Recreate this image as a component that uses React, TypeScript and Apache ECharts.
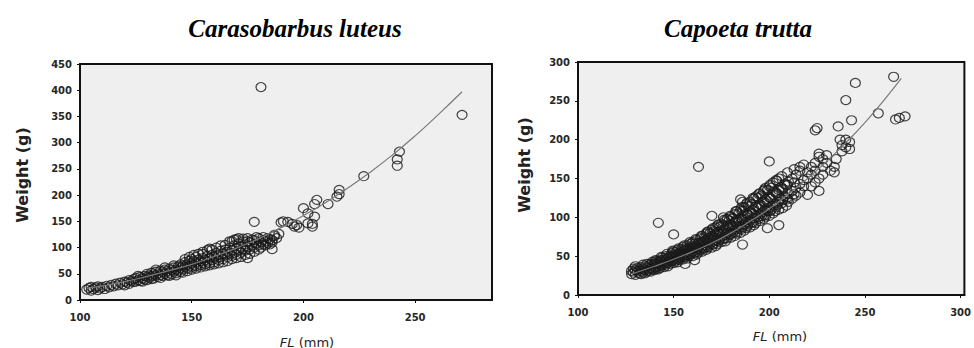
import React, { useEffect, useRef } from "react";
import * as echarts from "echarts";

const leftTitle = "Carasobarbus luteus";
const rightTitle = "Capoeta trutta";
const yName = "Weight (g)";

// Carasobarbus luteus: [FL (mm), Weight (g)]
const luteusPoints: number[][] = [
  [103,20],[104,23],[105,18],[105,25],[106,21],[107,24],[108,19],[108,26],[109,22],[110,25],
  [111,21],[112,27],[113,24],[114,29],[115,26],[116,31],[117,28],[118,33],[119,30],[120,35],
  [121,33],[122,38],[123,36],[124,40],[124,34],[125,42],[126,38],[127,44],[127,36],[128,41],
  [129,46],[129,39],[130,44],[130,50],[131,42],[131,47],[132,45],[132,52],[133,41],[133,49],
  [134,47],[134,54],[135,44],[135,51],[136,48],[136,56],[137,46],[137,53],[138,50],[138,58],
  [139,47],[139,55],[140,52],[140,60],[141,49],[141,57],[142,54],[142,62],[143,51],[143,58],
  [144,56],[144,64],[145,53],[145,61],
  [146,66],[146,58],[147,63],[147,72],[148,60],[148,68],[149,65],[149,75],[150,62],[150,70],
  [150,78],[151,66],[151,74],[152,64],[152,72],[152,82],[153,69],[153,77],[154,66],[154,74],
  [155,71],[155,80],[155,88],[156,68],[156,76],[157,73],[157,84],[158,70],[158,79],[158,98],
  [159,76],[159,86],[160,72],[160,82],[161,79],[161,90],[162,76],[162,86],[163,82],[163,94],
  [164,78],[164,88],[165,85],[165,96],[166,82],[166,92],[167,88],[167,100],[168,84],[168,95],
  [168,112],[169,90],[169,104],[170,86],[170,98],[170,116],[171,94],[171,108],[172,90],[172,102],
  [173,97],[173,112],[174,94],[174,106],[175,80],[175,100],[175,118],[176,96],[176,110],[177,104],
  [178,100],[178,114],[179,108],[180,104],[180,118],[181,110],[182,106],[182,120],[183,112],[184,108],
  [185,116],[186,114],[186,97],[187,122],
  [120,28],[122,31],[125,35],[126,46],[128,35],[130,38],[132,40],[134,58],[136,42],[138,62],
  [140,46],[142,66],[143,47],[145,68],[146,52],[147,78],[148,55],[149,82],[150,58],[151,86],
  [152,60],[153,88],[154,62],[155,92],[156,64],[157,95],[158,66],[159,96],[160,68],[161,100],
  [162,70],[163,104],[164,72],[165,105],[166,74],[167,112],[168,78],[169,115],[170,80],[171,118],
  [172,82],[173,117],[174,86],[175,112],[176,88],[177,115],[178,92],[179,120],[180,96],[181,100],
  [182,114],[183,104],[184,118],[185,106],[186,110],[187,124],[188,118],[189,126],
  [178,149],[181,406],[190,148],[191,150],[193,149],[195,145],[196,140],[197,143],[198,138],
  [200,175],[202,165],[202,146],[204,145],[204,140],[205,159],[205,183],[206,191],[211,183],
  [215,197],[216,210],[216,202],[227,236],[242,256],[242,268],[243,283],[271,353],
];

// fitted curve
const luteusFit: number[][] = [
  [103,22],[110,27],[120,35],[130,45],[140,56],[150,68],[160,83],[170,99],[180,117],
  [190,138],[200,161],[210,186],[220,214],[230,244],[240,277],[250,313],[260,352],[271,397],
];

// Capoeta trutta: weights grouped by FL
const truttaGroups: [number, number[]][] = [
  [128,[27,31]],[129,[29,34]],[130,[26,32,37]],[131,[30,35]],[132,[28,33]],[133,[31,36,27]],
  [134,[29,34,39]],[135,[32,37,28]],[136,[30,35,40]],[137,[33,38,31]],[138,[35,40,30]],
  [139,[33,38,43]],[140,[36,41,32]],[141,[34,39,44]],[142,[37,42,33,93]],[143,[40,45,35]],
  [144,[38,43,48]],[145,[41,46,36]],[146,[39,44,50]],[147,[42,47,37]],[148,[45,50,40]],
  [149,[43,48,54]],[150,[46,51,41,56,78]],[151,[44,49,55]],[152,[47,52,42,58]],[153,[50,55,45]],
  [154,[48,53,59]],[155,[51,56,46,62]],[156,[49,54,60,40]],[157,[52,58,47,64]],[158,[55,61,50]],
  [159,[53,59,66]],[160,[56,62,50,68]],[161,[54,60,66,45]],[162,[58,64,52,71]],[163,[61,67,55,165]],
  [164,[59,65,73]],[165,[62,69,56,76]],[166,[60,67,74]],[167,[64,71,58,79]],[168,[67,74,61,82]],
  [169,[65,72,80]],[170,[68,76,61,84,102]],[171,[66,74,82]],[172,[70,78,63,87]],[173,[73,81,66,90]],
  [174,[71,79,88]],[175,[75,83,68,92]],[176,[72,81,90,100]],[177,[77,86,69,95]],[178,[80,89,73,98]],
  [179,[78,87,96]],[180,[82,91,74,101]],[181,[80,89,99]],[182,[84,94,76,104]],[183,[87,97,79,108]],
  [184,[85,95,105]],[185,[89,99,80,110,123]],[186,[87,97,108,65,120]],[187,[91,102,83,113]],
  [188,[94,105,86,117]],[189,[92,103,114]],[190,[96,107,87,120]],[191,[94,105,117]],
  [192,[99,111,90,124]],[193,[102,114,93,127]],[194,[100,112,125]],[195,[104,117,95,131]],
  [196,[102,115,128]],[197,[107,120,98,134]],[198,[110,123,101,138]],[199,[108,121,135,86]],
  [200,[112,126,102,140,172]],[201,[110,124,138]],[202,[115,129,105,145]],[203,[118,133,108]],
  [204,[116,131,147]],[205,[120,135,110,150,90]],[206,[124,139]],[207,[122,137,112]],[208,[127,143]],
  [209,[125,141,115]],[210,[130,146,120]],[212,[134,150,124]],[214,[138,155,128]],
  [216,[143,160,165,132]],[218,[148,168,140]],[220,[150,129,158]],[222,[140,155,165]],
  [224,[145,160,170,212]],[225,[215]],[226,[150,134,178,182]],[228,[165,175,155]],[230,[170,180]],
  [232,[160]],[234,[158,165]],[235,[175]],[236,[217]],[237,[200]],[238,[185,193]],[240,[190,200,251]],
  [242,[188,197]],[243,[225]],[245,[273]],[257,[234]],[265,[281]],[266,[226]],[268,[228]],[271,[230]],
  [140.5,[35,40,45]],[143.5,[38,44,49]],[146.5,[41,47,53]],[149.5,[44,50,57]],[152.5,[46,53,60]],
  [155.5,[49,57,64]],[158.5,[52,60,68]],[161.5,[55,63,72]],[164.5,[58,67,76]],[167.5,[62,71,81]],
  [170.5,[65,75,86]],[173.5,[69,80,91]],[176.5,[73,84,97]],[179.5,[77,89,102]],[182.5,[81,94,108]],
  [185.5,[85,99,113]],[188.5,[89,104,119]],[191.5,[93,109,125]],[194.5,[98,114,130]],
  [197.5,[103,120,136]],[200.5,[108,125,142]],[203.5,[113,131,148]],[206.5,[118,136,153]],
  [209.5,[123,142,158]],[213,[130,145,162]],
];

const truttaFit: number[][] = [
  [128,27],[140,37],[150,46],[160,56],[170,67],[180,80],[190,95],[200,111],
  [210,130],[220,150],[230,172],[240,196],[250,222],[260,251],[269,279],
];

const truttaPoints: number[][] = [];
truttaGroups.forEach(([fl, ws]) => ws.forEach((w) => truttaPoints.push([fl, w])));

const labelStyle = {
  color: "#262626",
  fontFamily: "DejaVu Sans",
  fontWeight: "bold" as const,
  fontSize: 10,
};

function xAxisCfg(gridIndex: number, max: number, margin: number) {
  return {
    type: "value",
    gridIndex,
    min: 100,
    max,
    interval: 50,
    axisLine: { show: true, onZero: false, lineStyle: { color: "#111", width: 2 } },
    axisTick: { show: true, length: 3, inside: false, lineStyle: { color: "#111" } },
    splitLine: { show: false },
    axisLabel: {
      ...labelStyle,
      margin,
      showMaxLabel: false,
      formatter: (v: number) => (v % 50 === 0 ? String(v) : ""),
    },
  };
}

function yAxisCfg(gridIndex: number, max: number) {
  return {
    type: "value",
    gridIndex,
    min: 0,
    max,
    interval: 50,
    axisLine: { show: true, onZero: false, lineStyle: { color: "#111", width: 2 } },
    axisTick: { show: true, length: 3, inside: false, lineStyle: { color: "#111" } },
    splitLine: { show: false },
    axisLabel: { ...labelStyle, margin: 8 },
  };
}

const scatterStyle = {
  color: "rgba(0,0,0,0)",
  borderColor: "#1a1a1a",
  borderWidth: 1.2,
};

export default function App() {
  const ref = useRef<HTMLDivElement>(null);
  useEffect(() => {
    if (!ref.current) return;
    const chart = echarts.init(ref.current, undefined, { renderer: "svg" });
    const titleFont = {
      fontFamily: "Liberation Serif",
      fontStyle: "italic",
      fontWeight: "bold",
      fontSize: 25,
      fill: "#000",
      align: "center",
      verticalAlign: "middle",
    };
    const nameFont = {
      fontFamily: "DejaVu Sans",
      fontWeight: "bold",
      fontSize: 16,
      fill: "#222",
      align: "center",
      verticalAlign: "middle",
    };
    const flFont = {
      fontFamily: "DejaVu Sans",
      fontSize: 13,
      fill: "#222",
      align: "center",
      verticalAlign: "middle",
      rich: { i: { fontStyle: "italic", fontFamily: "DejaVu Sans", fontSize: 13, fill: "#222" } },
    };
    chart.setOption({
      animation: false,
      backgroundColor: "#fff",
      grid: [
        { left: 80, top: 64, width: 412, height: 236, show: true, backgroundColor: "#efefef", borderColor: "#111", borderWidth: 2 },
        { left: 578, top: 62, width: 394, height: 233, show: true, backgroundColor: "#efefef", borderColor: "#111", borderWidth: 2 },
      ],
      xAxis: [xAxisCfg(0, 284.4, 12), xAxisCfg(1, 302, 12)],
      yAxis: [yAxisCfg(0, 450), yAxisCfg(1, 300)],
      series: [
        {
          type: "scatter", xAxisIndex: 0, yAxisIndex: 0, data: luteusPoints,
          symbol: "circle", symbolSize: [10, 9], itemStyle: scatterStyle, z: 2,
        },
        {
          type: "line", xAxisIndex: 0, yAxisIndex: 0, data: luteusFit, smooth: true,
          showSymbol: false, symbol: "none", lineStyle: { color: "#7a7a7a", width: 1.2 }, z: 3,
        },
        {
          type: "scatter", xAxisIndex: 1, yAxisIndex: 1, data: truttaPoints,
          symbol: "circle", symbolSize: [10, 9], itemStyle: scatterStyle, z: 2,
        },
        {
          type: "line", xAxisIndex: 1, yAxisIndex: 1, data: truttaFit, smooth: true,
          showSymbol: false, symbol: "none", lineStyle: { color: "#7a7a7a", width: 1.2 }, z: 3,
        },
      ],
      graphic: [
        { type: "text", x: 295, y: 28, style: { ...titleFont, text: leftTitle } },
        { type: "text", x: 738, y: 28, style: { ...titleFont, text: rightTitle } },
        { type: "text", x: 22, y: 175, rotation: Math.PI / 2, style: { ...nameFont, text: yName } },
        { type: "text", x: 524, y: 165, rotation: Math.PI / 2, style: { ...nameFont, text: yName } },
        { type: "text", x: 307, y: 342, style: { ...flFont, text: "{i|FL} (mm)" } },
        { type: "text", x: 780, y: 336, style: { ...flFont, text: "{i|FL} (mm)" } },
      ],
    });
    return () => chart.dispose();
  }, []);
  return (
    <div
      ref={ref}
      style={{ position: "absolute", left: 0, top: 0, width: 974, height: 348 }}
    />
  );
}
